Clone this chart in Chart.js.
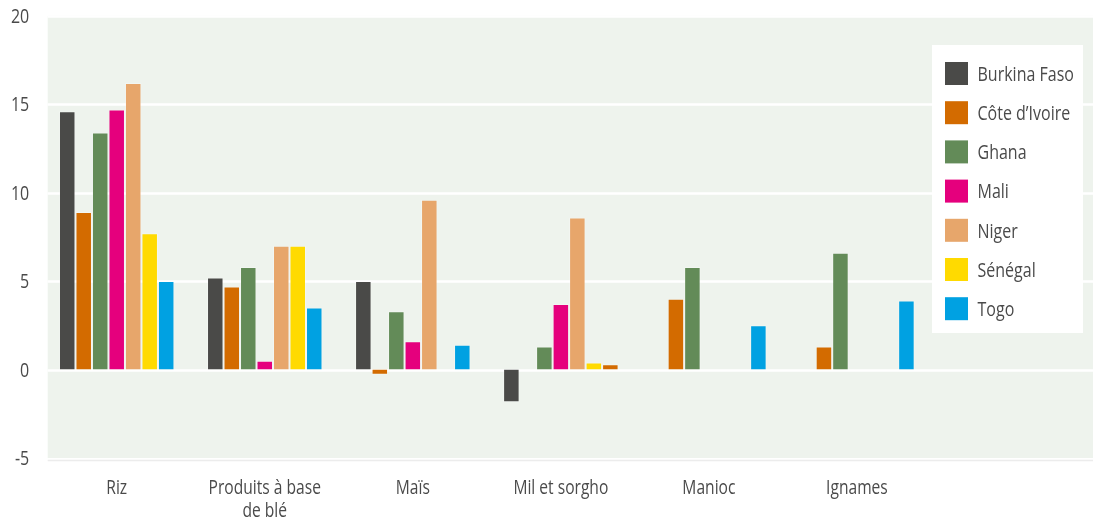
<!DOCTYPE html>
<html>
<head>
<meta charset="utf-8">
<script src="https://cdn.jsdelivr.net/npm/chart.js@4/dist/chart.umd.min.js"></script>
<style>
  html, body { margin: 0; padding: 0; background: #fff; }
  #wrap { width: 1093px; height: 523px; position: relative; }
</style>
</head>
<body>
<div id="wrap"><canvas id="chart"></canvas></div>
<script>
// categories (last slot is empty, the legend sits over it)
const categories = ['Riz', ['Produits à base', 'de blé'], 'Maïs', 'Mil et sorgho', 'Manioc', 'Ignames', ''];

const burkinaFaso = [14.6, 5.2, 5.0, -1.85, null, null, null];
const coteIvoire  = [8.9, 4.7, -0.3, null, 4.0, 1.3, null];
const ghana       = [13.4, 5.8, 3.3, 1.3, 5.8, 6.6, null];
const mali        = [14.7, 0.5, 1.6, 3.7, null, null, null];
const niger       = [16.2, 7.0, 9.6, 8.6, null, null, null];
const senegal     = [7.7, 7.0, null, 0.4, null, null, null];
const togo        = [5.0, 3.5, 1.4, 0.3, 2.5, 3.9, null];

const yTicks = [-5, 0, 5, 10, 15, 20];

const COL = {
  bf: '#4a4a48', ci: '#d36b00', gh: '#638b58', ml: '#e5007d',
  ng: '#e7a66b', sn: '#ffda00', tg: '#00a1e2'
};
// the Togo bar under "Mil et sorgho" is filled orange
const togoColors = categories.map((c, i) => i === 3 ? COL.ci : COL.tg);

// condensed look: a humanist sans squeezed horizontally
const FONT = "'Open Sans', 'Noto Sans', sans-serif";
const SQUEEZE = 0.8;
const TEXT = '#4a4a4a';
const PANEL = '#eef3ed';

function ds(label, data, color) {
  return {
    label: label,
    data: data,
    backgroundColor: color,
    legendColor: Array.isArray(color) ? color[0] : color,
    borderColor: 'rgba(255,255,255,0.28)',
    borderWidth: 1,
    categoryPercentage: 0.78,
    barPercentage: 1.0
  };
}

function squeezedText(ctx, str, x, y, align) {
  ctx.save();
  ctx.translate(x, y);
  ctx.scale(SQUEEZE, 1);
  ctx.textAlign = align;
  ctx.textBaseline = 'alphabetic';
  ctx.fillText(str, 0, 0);
  ctx.restore();
}

// panel background + white gridlines, running a bit wider than the bar area
const panelPlugin = {
  id: 'panel',
  beforeDraw(chart) {
    const { ctx, chartArea } = chart;
    const y = chart.scales.y;
    const x0 = chartArea.left + 5;
    const x1 = chart.width;
    ctx.save();
    ctx.fillStyle = PANEL;
    ctx.fillRect(x0, chartArea.top, x1 - x0, chartArea.bottom - chartArea.top);
    ctx.strokeStyle = '#ffffff';
    ctx.lineWidth = 2.5;
    yTicks.forEach(v => {
      if (v === yTicks[0]) return;
      const py = Math.round(y.getPixelForValue(v)) + 0.5;
      ctx.beginPath();
      ctx.moveTo(x0, py);
      ctx.lineTo(x1, py);
      ctx.stroke();
    });
    // faint axis line under the panel
    ctx.strokeStyle = '#ececec';
    ctx.lineWidth = 1.5;
    const by = chartArea.bottom + 2.5;
    ctx.beginPath();
    ctx.moveTo(x0, by);
    ctx.lineTo(x1, by);
    ctx.stroke();
    ctx.restore();
  }
};

// axis labels drawn by hand so they can be condensed
const axisText = {
  id: 'axisText',
  afterDraw(chart) {
    const { ctx, chartArea } = chart;
    const xs = chart.scales.x, ys = chart.scales.y;
    ctx.save();
    ctx.fillStyle = TEXT;
    ctx.font = '20px ' + FONT;
    yTicks.forEach(v => {
      squeezedText(ctx, String(v), chartArea.left - 13.5, ys.getPixelForValue(v) + 7.2, 'right');
    });
    ctx.font = '19.5px ' + FONT;
    categories.forEach((lab, i) => {
      const lines = Array.isArray(lab) ? lab : [lab];
      const px = xs.getPixelForTick(i);
      lines.forEach((ln, j) => {
        squeezedText(ctx, ln, px, chartArea.bottom + 36 + j * 22.5, 'center');
      });
    });
    ctx.restore();
  }
};

// boxed legend inside the plot, on the right
const legendBox = {
  id: 'legendBox',
  afterDraw(chart, args, opts) {
    const { ctx } = chart;
    const sets = chart.data.datasets;
    ctx.save();
    ctx.fillStyle = '#ffffff';
    ctx.fillRect(opts.x, opts.y, opts.w, opts.h);
    ctx.font = '20px ' + FONT;
    sets.forEach((d, i) => {
      const cy = opts.y + opts.first + i * opts.step;
      ctx.fillStyle = d.legendColor;
      ctx.fillRect(opts.x + 13, cy - 11.5, 23, 23);
      ctx.fillStyle = TEXT;
      squeezedText(ctx, d.label, opts.x + 45.5, cy + 7.3, 'left');
    });
    ctx.restore();
  }
};

new Chart(document.getElementById('chart'), {
  type: 'bar',
  data: {
    labels: categories,
    datasets: [
      ds('Burkina Faso', burkinaFaso, COL.bf),
      ds('Côte d\u2019Ivoire', coteIvoire, COL.ci),
      ds('Ghana', ghana, COL.gh),
      ds('Mali', mali, COL.ml),
      ds('Niger', niger, COL.ng),
      ds('Sénégal', senegal, COL.sn),
      ds('Togo', togo, togoColors)
    ]
  },
  plugins: [panelPlugin, axisText, legendBox],
  options: {
    responsive: true,
    maintainAspectRatio: false,
    animation: false,
    layout: { padding: { top: 15.7, right: 14, bottom: 0, left: 0 } },
    plugins: {
      legend: { display: false },
      tooltip: { enabled: false },
      legendBox: { x: 932, y: 45, w: 151, h: 288, first: 28.5, step: 39.2 }
    },
    scales: {
      x: {
        grid: { display: false },
        border: { display: false },
        ticks: { display: false, autoSkip: false },
        afterFit(scale) { scale.height = 65; }
      },
      y: {
        min: -5,
        max: 20,
        grid: { display: false, drawTicks: false },
        border: { display: false },
        afterBuildTicks(scale) { scale.ticks = yTicks.map(v => ({ value: v })); },
        ticks: { display: false },
        afterFit(scale) { scale.width = 42.7; }
      }
    }
  }
});
</script>
</body>
</html>
